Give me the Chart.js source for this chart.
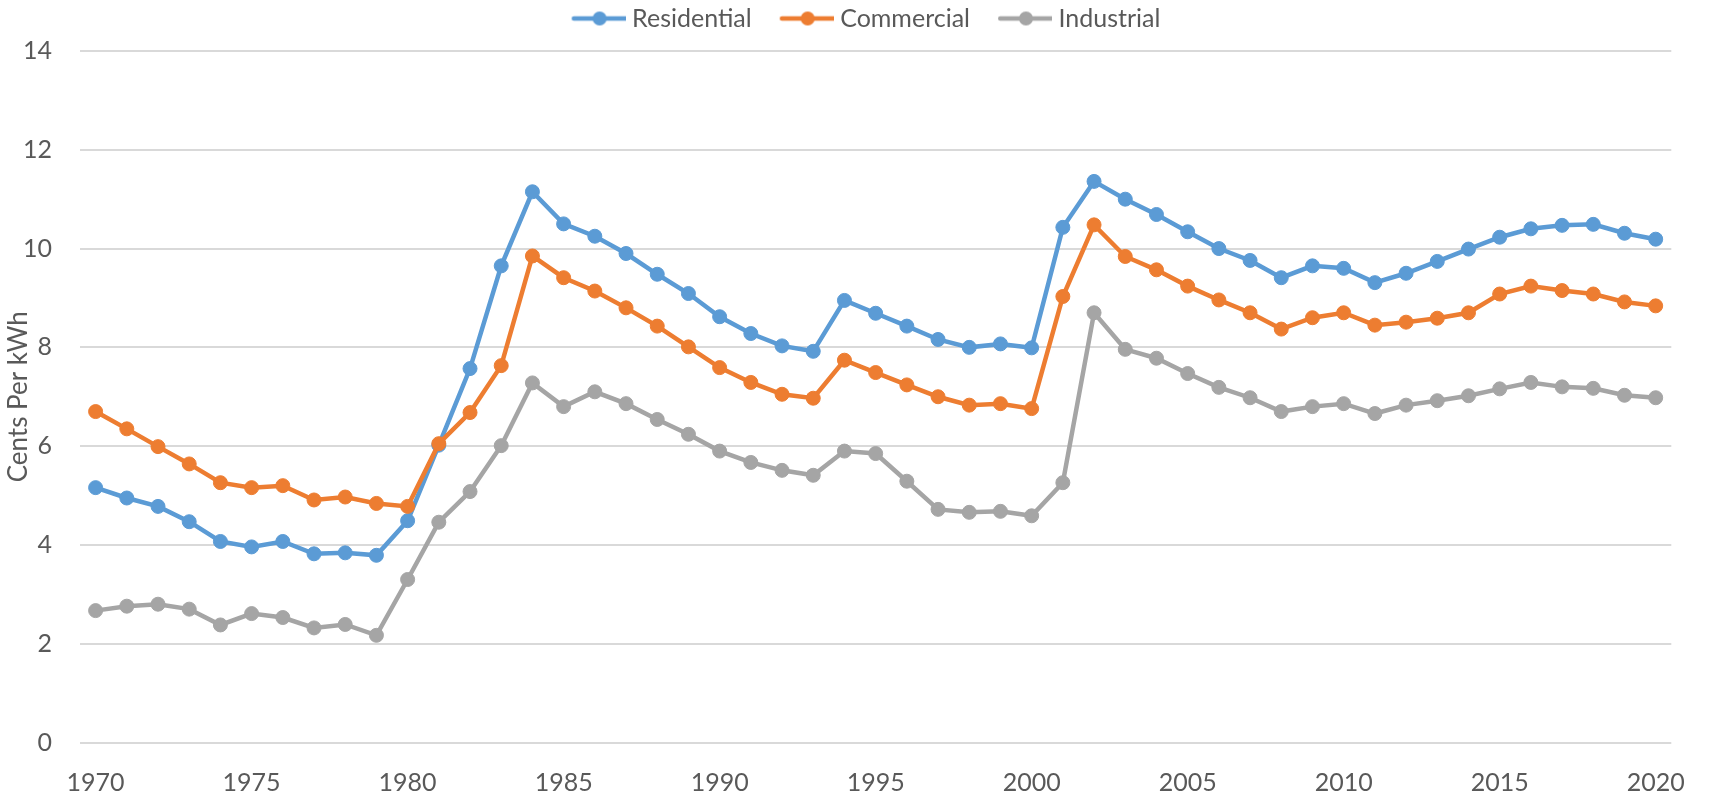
<!DOCTYPE html>
<html>
<head>
<meta charset="utf-8">
<script src="https://cdn.jsdelivr.net/npm/chart.js@4.4.1/dist/chart.umd.min.js"></script>
<style>
  html, body { margin: 0; padding: 0; background: #fff; }
  canvas { display: block; }
</style>
</head>
<body>
<canvas id="priceChart" width="1710" height="795"></canvas>
<script>
// dati (cents per kWh)
const years = [1970, 1971, 1972, 1973, 1974, 1975, 1976, 1977, 1978, 1979,
  1980, 1981, 1982, 1983, 1984, 1985, 1986, 1987, 1988, 1989,
  1990, 1991, 1992, 1993, 1994, 1995, 1996, 1997, 1998, 1999,
  2000, 2001, 2002, 2003, 2004, 2005, 2006, 2007, 2008, 2009,
  2010, 2011, 2012, 2013, 2014, 2015, 2016, 2017, 2018, 2019, 2020];

const residential = [5.16, 4.95, 4.78, 4.47, 4.07, 3.96, 4.07, 3.82, 3.84, 3.79,
  4.49, 6.02, 7.57, 9.65, 11.15, 10.50, 10.25, 9.90, 9.48, 9.09,
  8.62, 8.28, 8.03, 7.92, 8.95, 8.69, 8.43, 8.16, 8.00, 8.07,
  7.99, 10.43, 11.36, 11.00, 10.69, 10.34, 10.00, 9.76, 9.41, 9.65,
  9.60, 9.31, 9.50, 9.74, 9.99, 10.23, 10.40, 10.47, 10.49, 10.31, 10.19];

const commercial = [6.70, 6.35, 5.99, 5.64, 5.26, 5.16, 5.20, 4.91, 4.97, 4.84,
  4.78, 6.05, 6.68, 7.63, 9.85, 9.41, 9.14, 8.80, 8.43, 8.01,
  7.59, 7.29, 7.05, 6.97, 7.74, 7.49, 7.24, 7.00, 6.83, 6.86,
  6.76, 9.03, 10.48, 9.84, 9.57, 9.24, 8.96, 8.70, 8.37, 8.60,
  8.70, 8.45, 8.51, 8.59, 8.70, 9.08, 9.24, 9.15, 9.08, 8.92, 8.84];

const industrial = [2.67, 2.76, 2.80, 2.70, 2.38, 2.61, 2.53, 2.32, 2.39, 2.17,
  3.30, 4.46, 5.08, 6.01, 7.28, 6.80, 7.10, 6.86, 6.54, 6.24,
  5.90, 5.67, 5.51, 5.41, 5.90, 5.85, 5.29, 4.72, 4.66, 4.68,
  4.59, 5.26, 8.70, 7.96, 7.78, 7.47, 7.19, 6.98, 6.70, 6.80,
  6.86, 6.66, 6.83, 6.92, 7.02, 7.16, 7.29, 7.20, 7.17, 7.03, 6.98];

const seriesNames = ['Residential', 'Commercial', 'Industrial'];
const seriesColors = ['#5B9BD5', '#ED7D31', '#A5A5A5'];
const yTicks = { min: 0, max: 14, step: 2 };

Chart.defaults.font.family = 'Lato';
Chart.defaults.color = '#595959';

// icona legenda: linea + pallino (stile excel)
function legendIcon(color) {
    const c = document.createElement('canvas');
    c.width = 82;
    c.height = 18;
    const g = c.getContext('2d');
    g.strokeStyle = color;
    g.lineWidth = 4.5;
    g.lineCap = 'round';
    g.beginPath();
    g.moveTo(30.25, 9);
    g.lineTo(81.75, 9);
    g.stroke();
    g.fillStyle = color;
    g.beginPath();
    g.arc(56, 9, 7, 0, Math.PI * 2);
    g.fill();
    return c;
}
const icons = seriesColors.map(legendIcon);

function makeDataset(i, values) {
    return {
        label: seriesNames[i],
        data: values,
        borderColor: seriesColors[i],
        backgroundColor: seriesColors[i],
        borderWidth: 4.5,
        pointRadius: 7,
        pointBorderWidth: 1,
        pointBorderColor: seriesColors[i],
        pointBackgroundColor: seriesColors[i],
        tension: 0,
        order: 2 - i // l'ultima serie sta sopra
    };
}

// spazio sotto la legenda + legenda un po' spostata a destra
const legendSpace = {
    id: 'legendSpace',
    beforeUpdate(chart) {
        const lg = chart.legend;
        if (lg && !lg._spacePatched) {
            const fit = lg.fit;
            lg.fit = function () {
                fit.call(this);
                this.height = 51;
            };
            lg._spacePatched = true;
        }
    },
    afterLayout(chart) {
        const lg = chart.legend;
        if (lg) {
            lg.left += 16;
            lg.right += 16;
        }
    }
};

const ctx = document.getElementById('priceChart').getContext('2d');

const myChart = new Chart(ctx, {
    type: 'line',
    data: {
        labels: years,
        datasets: [
            makeDataset(0, residential),
            makeDataset(1, commercial),
            makeDataset(2, industrial)
        ]
    },
    plugins: [legendSpace],
    options: {
        responsive: false,
        animation: false,
        layout: { padding: { top: 0, right: 32, bottom: 0, left: 0 } },
        plugins: {
            tooltip: { enabled: false },
            legend: {
                position: 'top',
                labels: {
                    usePointStyle: true,
                    pointStyleWidth: 70,
                    padding: 6,
                    color: '#595959',
                    font: { size: 25 },
                    generateLabels(chart) {
                        const items = Chart.defaults.plugins.legend.labels.generateLabels(chart);
                        items.forEach(it => { it.pointStyle = icons[it.datasetIndex]; });
                        return items;
                    },
                    sort: (a, b) => a.datasetIndex - b.datasetIndex
                }
            }
        },
        scales: {
            x: {
                offset: true,
                grid: { display: false, drawTicks: false },
                border: { display: false },
                ticks: {
                    autoSkip: false,
                    maxRotation: 0,
                    padding: 25,
                    font: { size: 25 },
                    callback: function (value) {
                        const y = this.getLabelForValue(value);
                        return y % 5 === 0 ? String(y) : '';
                    }
                },
                afterFit: s => { s.height = 52.5; }
            },
            y: {
                min: yTicks.min,
                max: yTicks.max,
                grid: { color: '#D9D9D9', lineWidth: 2, drawTicks: false },
                border: { display: false },
                ticks: { stepSize: yTicks.step, padding: 28, font: { size: 25 } },
                title: {
                    display: true,
                    text: 'Cents Per kWh',
                    color: '#595959',
                    font: { size: 26 },
                    padding: { top: 3, bottom: 0 }
                },
                afterFit: s => { s.width = 80; }
            }
        }
    }
});
</script>
</body>
</html>
